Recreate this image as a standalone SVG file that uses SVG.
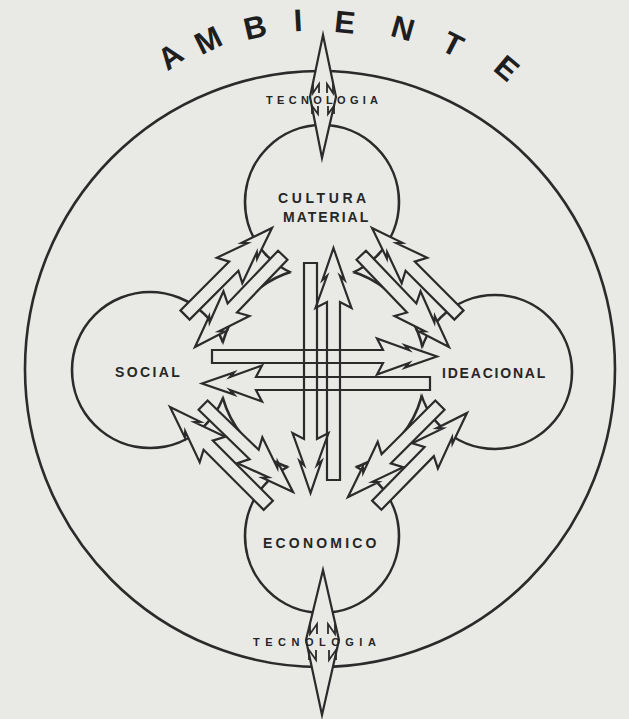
<svg xmlns="http://www.w3.org/2000/svg" width="629" height="719" viewBox="0 0 629 719">
<style>
.bg{fill:#e9e9e6}
.ring{fill:none;stroke:#2b2b2b;stroke-width:2.6}
.lobe{fill:none;stroke:#2b2b2b;stroke-width:2.6}
.af{fill:#e9e9e6;stroke:none}
.as{fill:none;stroke:#2b2b2b;stroke-width:2.2;stroke-linejoin:miter;stroke-miterlimit:10}
.mk{fill:none;stroke:#2b2b2b;stroke-width:1.8}
.lbl{font-family:"Liberation Sans",Arial,sans-serif;font-weight:bold;font-size:14px;fill:#262626}
.tec{font-family:"Liberation Sans",Arial,sans-serif;font-weight:bold;font-size:11px;fill:#262626}
.amb{font-family:"Liberation Sans",Arial,sans-serif;font-weight:bold;font-size:31px;fill:#1e1e1e;text-anchor:middle}
</style>
<defs>
<mask id="m-lobe" maskUnits="userSpaceOnUse" x="0" y="0" width="629" height="719">
<rect width="629" height="719" fill="#fff"/>
<circle cx="322" cy="370" r="103" fill="#000"/>
</mask>
<mask id="m-hub" maskUnits="userSpaceOnUse" x="0" y="0" width="629" height="719">
<rect width="629" height="719" fill="#fff"/>
<circle cx="322" cy="202" r="77" fill="#000"/>
<circle cx="150" cy="370" r="78" fill="#000"/>
<circle cx="495" cy="372" r="77" fill="#000"/>
<circle cx="322" cy="536" r="77" fill="#000"/>
</mask>
<path id="a1" transform="translate(333.5,248) rotate(-90)" d="M0,0 L-32,11 L-28,6.5 L-60,18 L-54,6.5 L-232,6.5 L-232,-6.5 L-54,-6.5 L-60,-18 L-28,-6.5 L-32,-11 Z"/>
<path id="a2" transform="translate(310.5,493) rotate(90)" d="M0,0 L-32,11 L-28,6.5 L-60,18 L-54,6.5 L-230,6.5 L-230,-6.5 L-54,-6.5 L-60,-18 L-28,-6.5 L-32,-11 Z"/>
<path id="a3" transform="translate(437,356.5)" d="M0,0 L-32,11 L-28,6.5 L-60,18 L-54,6.5 L-225,6.5 L-225,-6.5 L-54,-6.5 L-60,-18 L-28,-6.5 L-32,-11 Z"/>
<path id="a4" transform="translate(202,383.5) rotate(180)" d="M0,0 L-32,11 L-28,6.5 L-60,18 L-54,6.5 L-228,6.5 L-228,-6.5 L-54,-6.5 L-60,-18 L-28,-6.5 L-32,-11 Z"/>
<path id="a5" transform="translate(272,228) rotate(-45)" d="M0,0 L-32,11 L-28,6.5 L-60,18 L-54,6.5 L-123,6.5 L-123,-6.5 L-54,-6.5 L-60,-18 L-28,-6.5 L-32,-11 Z"/>
<path id="a6" transform="translate(195,347) rotate(133.7)" d="M0,0 L-32,11 L-28,6.5 L-60,18 L-54,6.5 L-127,6.5 L-127,-6.5 L-54,-6.5 L-60,-18 L-28,-6.5 L-32,-11 Z"/>
<path id="a7" transform="translate(372,228) rotate(-135)" d="M0,0 L-32,11 L-28,6.5 L-60,18 L-54,6.5 L-123,6.5 L-123,-6.5 L-54,-6.5 L-60,-18 L-28,-6.5 L-32,-11 Z"/>
<path id="a8" transform="translate(449,347) rotate(46.3)" d="M0,0 L-32,11 L-28,6.5 L-60,18 L-54,6.5 L-127,6.5 L-127,-6.5 L-54,-6.5 L-60,-18 L-28,-6.5 L-32,-11 Z"/>
<path id="a9" transform="translate(293,492) rotate(44)" d="M0,0 L-32,11 L-28,6.5 L-60,18 L-54,6.5 L-125,6.5 L-125,-6.5 L-54,-6.5 L-60,-18 L-28,-6.5 L-32,-11 Z"/>
<path id="a10" transform="translate(170,407) rotate(-135)" d="M0,0 L-32,11 L-28,6.5 L-60,18 L-54,6.5 L-139,6.5 L-139,-6.5 L-54,-6.5 L-60,-18 L-28,-6.5 L-32,-11 Z"/>
<path id="a11" transform="translate(348,497) rotate(135)" d="M0,0 L-32,11 L-28,6.5 L-60,18 L-54,6.5 L-130,6.5 L-130,-6.5 L-54,-6.5 L-60,-18 L-28,-6.5 L-32,-11 Z"/>
<path id="a12" transform="translate(467,413) rotate(-45.6)" d="M0,0 L-32,11 L-28,6.5 L-60,18 L-54,6.5 L-129,6.5 L-129,-6.5 L-54,-6.5 L-60,-18 L-28,-6.5 L-32,-11 Z"/>
<polygon id="d-top" points="323,35 336,97 322,158 310,97"/>
<polygon id="d-bot" points="323,570 339,640 322,715 306,640"/>
</defs>

<rect class="bg" width="629" height="719"/>

<g id="ambiente">
<ellipse class="ring" cx="320" cy="369" rx="295" ry="298"/>
<text class="amb" transform="translate(170,56) rotate(-36)" y="11">A</text>
<text class="amb" transform="translate(208,40) rotate(-26)" y="11">M</text>
<text class="amb" transform="translate(255,27) rotate(-13)" y="11">B</text>
<text class="amb" transform="translate(298,20) rotate(-3)" y="11">I</text>
<text class="amb" transform="translate(345,22) rotate(6)" y="11">E</text>
<text class="amb" transform="translate(403,28) rotate(16)" y="11">N</text>
<text class="amb" transform="translate(453,44) rotate(27)" y="11">T</text>
<text class="amb" transform="translate(507,68) rotate(40)" y="11">E</text>
</g>

<g id="centro">
<circle class="lobe" cx="322" cy="370" r="103" mask="url(#m-hub)"/>
</g>

<g id="cultura-material">
<circle class="lobe" cx="322" cy="202" r="77" mask="url(#m-lobe)"/>
<text class="lbl" x="278" y="203" letter-spacing="3.6">CULTURA</text>
<text class="lbl" x="283" y="222" letter-spacing="2">MATERIAL</text>
</g>

<g id="social">
<circle class="lobe" cx="150" cy="370" r="78" mask="url(#m-lobe)"/>
<text class="lbl" x="115" y="377" letter-spacing="2.4">SOCIAL</text>
</g>

<g id="ideacional">
<circle class="lobe" cx="495" cy="372" r="77" mask="url(#m-lobe)"/>
<text class="lbl" x="442" y="378" letter-spacing="1.8">IDEACIONAL</text>
</g>

<g id="economico">
<circle class="lobe" cx="322" cy="536" r="77" mask="url(#m-lobe)"/>
<text class="lbl" x="263" y="548" letter-spacing="3.2">ECONOMICO</text>
</g>

<g id="connectors">
<use href="#d-top" class="af"/>
<use href="#d-top" class="as"/>
<use href="#d-bot" class="af"/>
<use href="#d-bot" class="as"/>
<path class="mk" d="M313,84 L313,93 L319,84 L319,93 M327,93 L327,84 L333,93 L333,84 M312,114 L312,106 L318,114 L318,106 M328,106 L328,114 L334,106 L334,114"/>
<path class="mk" d="M310,624 L310,634 L317,624 L317,634 M328,634 L328,624 L335,634 L335,624 M309,660 L309,650 L316,660 L316,650 M329,650 L329,660 L336,650 L336,660"/>
<text class="tec" x="266" y="104" letter-spacing="4.3">TECNOLOGIA</text>
<text class="tec" x="253" y="646" font-size="11.5" letter-spacing="5.5">TECNOLOGIA</text>
<g class="af">
<use href="#a5"/><use href="#a6"/><use href="#a7"/><use href="#a8"/>
<use href="#a9"/><use href="#a10"/><use href="#a11"/><use href="#a12"/>
<use href="#a3"/><use href="#a4"/><use href="#a1"/><use href="#a2"/>
</g>
<g class="as">
<use href="#a5"/><use href="#a6"/><use href="#a7"/><use href="#a8"/>
<use href="#a9"/><use href="#a10"/><use href="#a11"/><use href="#a12"/>
<use href="#a3"/><use href="#a4"/><use href="#a1"/><use href="#a2"/>
</g>
</g>
</svg>
